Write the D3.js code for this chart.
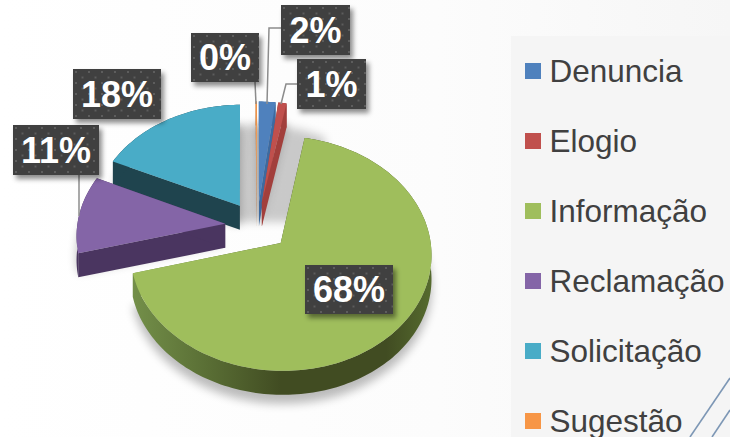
<!DOCTYPE html>
<html>
<head>
<meta charset="utf-8">
<script src="https://cdn.jsdelivr.net/npm/d3@7/dist/d3.min.js"></script>
<style>
html, body { margin: 0; padding: 0; background: #fff; }
svg { display: block; }
text { font-family: "Liberation Sans", Arial, sans-serif; }
</style>
</head>
<body>
<svg id="chart" width="730" height="437"></svg>
<script>
var categories = ["Denuncia", "Elogio", "Informação", "Reclamação", "Solicitação", "Sugestão"];
var percents = [2, 1, 68, 11, 18, 0.15];
var colors = ["#4f81bd", "#c0504d", "#9fbe5c", "#8465a7", "#49acc7", "#f79646"];
var sideColors = ["#3d6a9f", "#a23f3c", "url(#greenSide)", "#4a3560", "#1f444e", "#b86e30"];

// label boxes, leaders are [x,y] polylines from the box to the slice
var labelBoxes = [
    {x: 281, y: 5, w: 69, h: 50, leader: [[281, 28], [269, 28], [267, 104]]},
    {x: 297, y: 59, w: 69, h: 50, leader: [[297, 84], [286, 84], [281, 104]]},
    {x: 305, y: 265, w: 88, h: 49},
    {x: 13, y: 125, w: 86, h: 50, leader: [[79, 175], [79, 216]]},
    {x: 73, y: 69, w: 88, h: 50},
    {x: 191, y: 33, w: 68, h: 49, leader: [[255, 82], [256, 104]]}
];

var cx = 257, cy = 226, radius = 148, explode = 32, depth = 24;
var tilt = 0.766, persp = 0.0006;

var svg = d3.select("#chart");
var defs = svg.append("defs");

var bg = defs.append("linearGradient").attr("id", "bg");
bg.append("stop").attr("offset", "0").attr("stop-color", "#ffffff");
bg.append("stop").attr("offset", "0.6").attr("stop-color", "#fcfcfc");
bg.append("stop").attr("offset", "1").attr("stop-color", "#f6f6f6");

var gs = defs.append("linearGradient").attr("id", "greenSide")
    .attr("gradientUnits", "userSpaceOnUse")
    .attr("x1", 131).attr("x2", 431).attr("y1", 0).attr("y2", 0);
gs.append("stop").attr("offset", "0").attr("stop-color", "#74904a");
gs.append("stop").attr("offset", "0.25").attr("stop-color", "#5a6f35");
gs.append("stop").attr("offset", "0.5").attr("stop-color", "#414c22");
gs.append("stop").attr("offset", "0.85").attr("stop-color", "#414c22");
gs.append("stop").attr("offset", "1").attr("stop-color", "#556a2e");

defs.append("filter").attr("id", "blur")
    .attr("filterUnits", "userSpaceOnUse")
    .attr("x", 0).attr("y", 0).attr("width", 730).attr("height", 437)
    .append("feGaussianBlur").attr("stdDeviation", 5);

defs.append("clipPath").attr("id", "backClip")
    .append("rect").attr("x", 225).attr("y", 100).attr("width", 100).attr("height", 122);

defs.append("filter").attr("id", "boxShadow")
    .attr("x", "-20%").attr("y", "-20%").attr("width", "150%").attr("height", "150%")
    .append("feDropShadow")
    .attr("dx", 3).attr("dy", 4).attr("stdDeviation", 2.5)
    .attr("flood-color", "#000").attr("flood-opacity", 0.45);

var dots = defs.append("pattern").attr("id", "dots")
    .attr("patternUnits", "userSpaceOnUse").attr("width", 13).attr("height", 11);
dots.append("rect").attr("width", 13).attr("height", 11).attr("fill", "#3f3f3f");
dots.append("rect").attr("x", 2).attr("y", 2).attr("width", 2).attr("height", 2).attr("fill", "#5d5d5d");
dots.append("rect").attr("x", 8.5).attr("y", 7.5).attr("width", 2).attr("height", 2).attr("fill", "#5d5d5d");

// background and legend panel
svg.append("rect").attr("width", 730).attr("height", 437).attr("fill", "url(#bg)");
svg.append("rect").attr("x", 511).attr("y", 36).attr("width", 219).attr("height", 401).attr("fill", "#f5f5f5");

// corner decoration
svg.selectAll(".deco")
    .data([[730, 378, 690, 437], [730, 410, 712, 437]])
  .enter().append("line")
    .attr("class", "deco")
    .attr("x1", function(d) { return d[0]; })
    .attr("y1", function(d) { return d[1]; })
    .attr("x2", function(d) { return d[2]; })
    .attr("y2", function(d) { return d[3]; })
    .attr("stroke", "#7d97b5")
    .attr("stroke-width", 1.6);

var pie = d3.pie().sort(null).value(function(d) { return d; });
var arcs = pie(percents);

function project(X, Y, z) {
    var s = 1 / (1 + Y * persp);
    return [cx + X * s, cy - Y * tilt * s + z];
}

function offset(d, e) {
    var mid = (d.startAngle + d.endAngle) / 2;
    return [e * Math.sin(mid), e * Math.cos(mid)];
}

function rim(d, z, e) {
    var off = offset(d, e);
    var n = Math.max(2, Math.ceil((d.endAngle - d.startAngle) * 40));
    return d3.range(n + 1).map(function(i) {
        var a = d.startAngle + (d.endAngle - d.startAngle) * i / n;
        return project(off[0] + radius * Math.sin(a), off[1] + radius * Math.cos(a), z);
    });
}

function apex(d, z, e) {
    var off = offset(d, e);
    return project(off[0], off[1], z);
}

var line = d3.line().curve(d3.curveLinear);

function topPath(d, z, e) {
    return line([apex(d, z, e)].concat(rim(d, z, e))) + "Z";
}

function wallPath(d, ang) {
    var off = offset(d, explode);
    var ex = off[0] + radius * Math.sin(ang), ey = off[1] + radius * Math.cos(ang);
    return line([apex(d, 0, explode), project(ex, ey, 0), project(ex, ey, depth), apex(d, depth, explode)]) + "Z";
}

function outerPath(d) {
    return line(rim(d, 0, explode).concat(rim(d, depth, explode).reverse())) + "Z";
}

// soft shadow: the closed pie shows behind the far gap, each slice under itself
svg.append("g")
    .attr("filter", "url(#blur)")
    .attr("opacity", 0.2)
  .append("g")
    .attr("clip-path", "url(#backClip)")
    .selectAll("path")
    .data(arcs)
  .enter().append("path")
    .attr("d", function(d) { return topPath(d, 3, 0); })
    .attr("fill", "#000");

svg.append("g")
    .attr("filter", "url(#blur)")
    .attr("opacity", 0.26)
    .selectAll("path")
    .data(arcs)
  .enter().append("path")
    .attr("d", function(d) { return topPath(d, d.index === 2 ? depth + 9 : depth - 4, explode); })
    .attr("fill", "#000");

// far slices first so the near ones overlap them
var order = [5, 4, 0, 1, 3, 2];

var slices = svg.selectAll(".slice")
    .data(order.map(function(i) { return arcs[i]; }))
  .enter().append("g")
    .attr("class", "slice");

slices.append("path")
    .attr("d", function(d) { return wallPath(d, d.startAngle); })
    .attr("fill", function(d) { return sideColors[d.index]; });
slices.append("path")
    .attr("d", function(d) { return wallPath(d, d.endAngle); })
    .attr("fill", function(d) { return sideColors[d.index]; });
slices.append("path")
    .attr("d", outerPath)
    .attr("fill", function(d) { return sideColors[d.index]; });
slices.append("path")
    .attr("d", function(d) { return topPath(d, 0, explode); })
    .attr("fill", function(d) { return colors[d.index]; });

// leader lines
svg.selectAll(".leader")
    .data(labelBoxes.filter(function(d) { return d.leader; }))
  .enter().append("path")
    .attr("class", "leader")
    .attr("d", function(d) { return line(d.leader); })
    .attr("fill", "none")
    .attr("stroke", "#8c8c8c")
    .attr("stroke-width", 1.5);

// data labels
var labels = svg.selectAll(".label")
    .data(percents)
  .enter().append("g")
    .attr("class", "label")
    .attr("transform", function(d, i) { return "translate(" + labelBoxes[i].x + "," + labelBoxes[i].y + ")"; });

labels.append("rect")
    .attr("width", function(d, i) { return labelBoxes[i].w; })
    .attr("height", function(d, i) { return labelBoxes[i].h; })
    .attr("fill", "url(#dots)")
    .attr("filter", "url(#boxShadow)");

labels.append("text")
    .attr("x", function(d, i) { return labelBoxes[i].w / 2; })
    .attr("y", function(d, i) { return labelBoxes[i].h / 2 + 12.5; })
    .attr("text-anchor", "middle")
    .attr("font-size", 36)
    .attr("font-weight", "bold")
    .attr("fill", "#fff")
    .text(function(d) { return Math.round(d) + "%"; });

// legend
var legendY = d3.scalePoint().domain(categories).range([71, 421]);

var legend = svg.selectAll(".legend")
    .data(categories)
  .enter().append("g")
    .attr("class", "legend")
    .attr("transform", function(d) { return "translate(525," + legendY(d) + ")"; });

legend.append("rect")
    .attr("y", -8)
    .attr("width", 16)
    .attr("height", 16)
    .attr("fill", function(d, i) { return colors[i]; });

legend.append("text")
    .attr("x", 24.5)
    .attr("y", 11)
    .attr("font-size", 31.5)
    .attr("fill", "#404040")
    .text(function(d) { return d; });
</script>
</body>
</html>
